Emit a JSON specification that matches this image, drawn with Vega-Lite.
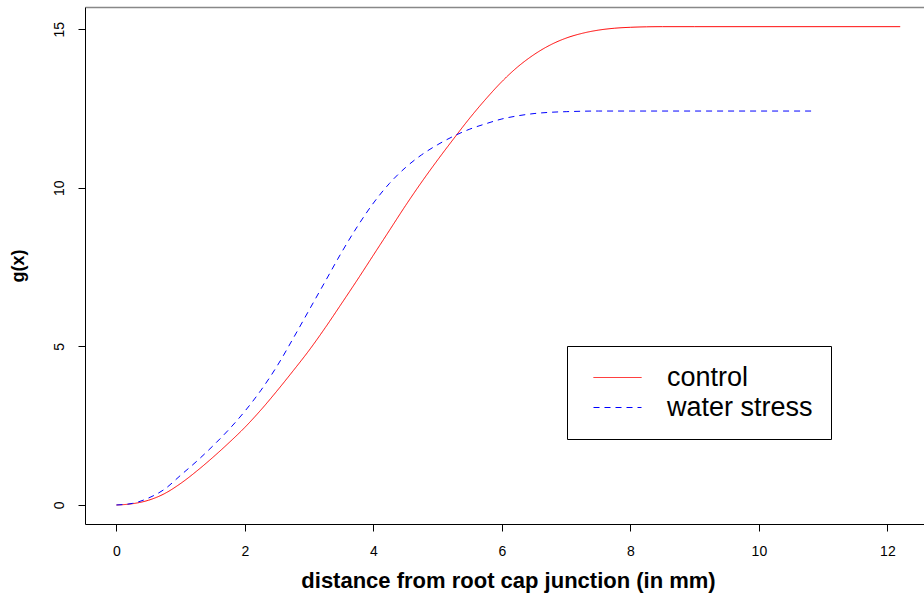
{
  "$schema": "https://vega.github.io/schema/vega-lite/v6.json",
  "autosize": "none",
  "width": 839,
  "height": 517,
  "padding": {"left": 85, "top": 7, "right": 0, "bottom": 72},
  "background": "white",
  "data": {
    "values": [
      {"d": 0, "g": 0, "s": "control"},
      {"d": 0.25, "g": 0.04, "s": "control"},
      {"d": 0.5, "g": 0.15, "s": "control"},
      {"d": 0.75, "g": 0.36, "s": "control"},
      {"d": 1.0, "g": 0.68, "s": "control"},
      {"d": 1.25, "g": 1.07, "s": "control"},
      {"d": 1.5, "g": 1.5, "s": "control"},
      {"d": 1.75, "g": 1.96, "s": "control"},
      {"d": 2.0, "g": 2.45, "s": "control"},
      {"d": 2.25, "g": 3.0, "s": "control"},
      {"d": 2.5, "g": 3.6, "s": "control"},
      {"d": 2.75, "g": 4.23, "s": "control"},
      {"d": 3.0, "g": 4.88, "s": "control"},
      {"d": 3.25, "g": 5.59, "s": "control"},
      {"d": 3.5, "g": 6.34, "s": "control"},
      {"d": 3.75, "g": 7.1, "s": "control"},
      {"d": 4.0, "g": 7.88, "s": "control"},
      {"d": 4.25, "g": 8.66, "s": "control"},
      {"d": 4.5, "g": 9.44, "s": "control"},
      {"d": 4.75, "g": 10.18, "s": "control"},
      {"d": 5.0, "g": 10.88, "s": "control"},
      {"d": 5.25, "g": 11.55, "s": "control"},
      {"d": 5.5, "g": 12.2, "s": "control"},
      {"d": 5.75, "g": 12.8, "s": "control"},
      {"d": 6.0, "g": 13.35, "s": "control"},
      {"d": 6.25, "g": 13.82, "s": "control"},
      {"d": 6.5, "g": 14.2, "s": "control"},
      {"d": 6.75, "g": 14.5, "s": "control"},
      {"d": 7.0, "g": 14.72, "s": "control"},
      {"d": 7.25, "g": 14.87, "s": "control"},
      {"d": 7.5, "g": 14.97, "s": "control"},
      {"d": 7.75, "g": 15.03, "s": "control"},
      {"d": 8.0, "g": 15.06, "s": "control"},
      {"d": 8.25, "g": 15.075, "s": "control"},
      {"d": 8.5, "g": 15.08, "s": "control"},
      {"d": 9.0, "g": 15.08, "s": "control"},
      {"d": 12.2, "g": 15.08, "s": "control"},
      {"d": 0, "g": 0, "s": "water stress"},
      {"d": 0.25, "g": 0.05, "s": "water stress"},
      {"d": 0.5, "g": 0.22, "s": "water stress"},
      {"d": 0.75, "g": 0.5, "s": "water stress"},
      {"d": 1.0, "g": 0.94, "s": "water stress"},
      {"d": 1.25, "g": 1.38, "s": "water stress"},
      {"d": 1.5, "g": 1.86, "s": "water stress"},
      {"d": 1.75, "g": 2.38, "s": "water stress"},
      {"d": 2.0, "g": 2.96, "s": "water stress"},
      {"d": 2.25, "g": 3.62, "s": "water stress"},
      {"d": 2.5, "g": 4.38, "s": "water stress"},
      {"d": 2.75, "g": 5.25, "s": "water stress"},
      {"d": 3.0, "g": 6.15, "s": "water stress"},
      {"d": 3.25, "g": 7.05, "s": "water stress"},
      {"d": 3.5, "g": 7.95, "s": "water stress"},
      {"d": 3.75, "g": 8.78, "s": "water stress"},
      {"d": 4.0, "g": 9.52, "s": "water stress"},
      {"d": 4.25, "g": 10.14, "s": "water stress"},
      {"d": 4.5, "g": 10.64, "s": "water stress"},
      {"d": 4.75, "g": 11.04, "s": "water stress"},
      {"d": 5.0, "g": 11.36, "s": "water stress"},
      {"d": 5.25, "g": 11.63, "s": "water stress"},
      {"d": 5.5, "g": 11.85, "s": "water stress"},
      {"d": 5.75, "g": 12.02, "s": "water stress"},
      {"d": 6.0, "g": 12.17, "s": "water stress"},
      {"d": 6.25, "g": 12.27, "s": "water stress"},
      {"d": 6.5, "g": 12.34, "s": "water stress"},
      {"d": 6.75, "g": 12.38, "s": "water stress"},
      {"d": 7.0, "g": 12.4, "s": "water stress"},
      {"d": 7.5, "g": 12.42, "s": "water stress"},
      {"d": 8.0, "g": 12.42, "s": "water stress"},
      {"d": 10.87, "g": 12.42, "s": "water stress"}
    ]
  },
  "encoding": {
    "y": {
      "field": "g",
      "type": "quantitative",
      "scale": {"domain": [-0.6, 15.7], "nice": false, "zero": false},
      "axis": {
        "values": [0, 5, 10, 15],
        "grid": false,
        "tickSize": 7,
        "tickColor": "black",
        "domainColor": "black",
        "labelAngle": 270,
        "labelAlign": "center",
        "labelBaseline": "alphabetic",
        "labelPadding": 15,
        "labelFontSize": 14,
        "labelColor": "black",
        "title": "g(x)",
        "titleFontSize": 18,
        "titleFontWeight": "bold",
        "titleColor": "black",
        "titleAngle": 270,
        "titleAlign": "center",
        "titleBaseline": "alphabetic",
        "titleX": -62,
        "titleY": 258.5
      }
    },
    "color": {
      "field": "s",
      "type": "nominal",
      "scale": {"domain": ["control", "water stress"], "range": ["#ff0000", "#0000ff"]},
      "legend": {"title": null}
    },
    "strokeDash": {
      "field": "s",
      "type": "nominal",
      "scale": {"domain": ["control", "water stress"], "range": [[1, 0], [6, 5]]},
      "legend": {"title": null}
    }
  },
  "layer": [
    {
      "transform": [{"filter": "datum.s === 'control'"}],
      "mark": {"type": "line", "strokeWidth": 1, "interpolate": "monotone"},
      "encoding": {
        "x": {
          "field": "d",
          "type": "quantitative",
          "scale": {"domain": [-0.49, 12.57], "nice": false, "zero": false},
          "axis": {
            "orient": "bottom",
            "values": [0, 2, 4, 6, 8, 10, 12],
            "grid": false,
            "tickSize": 7,
            "tickColor": "black",
            "domainColor": "black",
            "labelFontSize": 14,
            "labelColor": "black",
            "labelBaseline": "top",
            "labelPadding": 13,
            "labelFlush": false,
            "title": "distance from root cap junction (in mm)",
            "titleFontSize": 22,
            "titleFontWeight": "bold",
            "titleColor": "black",
            "titleAlign": "center",
            "titleBaseline": "alphabetic",
            "titleX": 423,
            "titleY": 63
          }
        }
      }
    },
    {
      "transform": [{"filter": "datum.s === 'water stress'"}],
      "mark": {"type": "line", "strokeWidth": 1, "interpolate": "monotone"},
      "encoding": {
        "x": {
          "field": "d",
          "type": "quantitative",
          "axis": {
            "orient": "top",
            "grid": false,
            "ticks": false,
            "labels": false,
            "title": null,
            "domainColor": "#888888",
            "domainWidth": 1.5
          }
        }
      }
    }
  ],
  "resolve": {"axis": {"x": "independent"}},
  "config": {
    "font": "Liberation Sans",
    "view": {"stroke": null},
    "legend": {
      "orient": "none",
      "legendX": 482,
      "legendY": 339,
      "strokeColor": "black",
      "fillColor": "white",
      "padding": 18,
      "symbolType": "M-2,0H2",
      "symbolSize": 576,
      "symbolStrokeWidth": 1,
      "symbolFillColor": "transparent",
      "labelFontSize": 27,
      "labelColor": "black",
      "labelOffset": 36,
      "symbolOffset": 19,
      "rowPadding": 2
    }
  }
}
